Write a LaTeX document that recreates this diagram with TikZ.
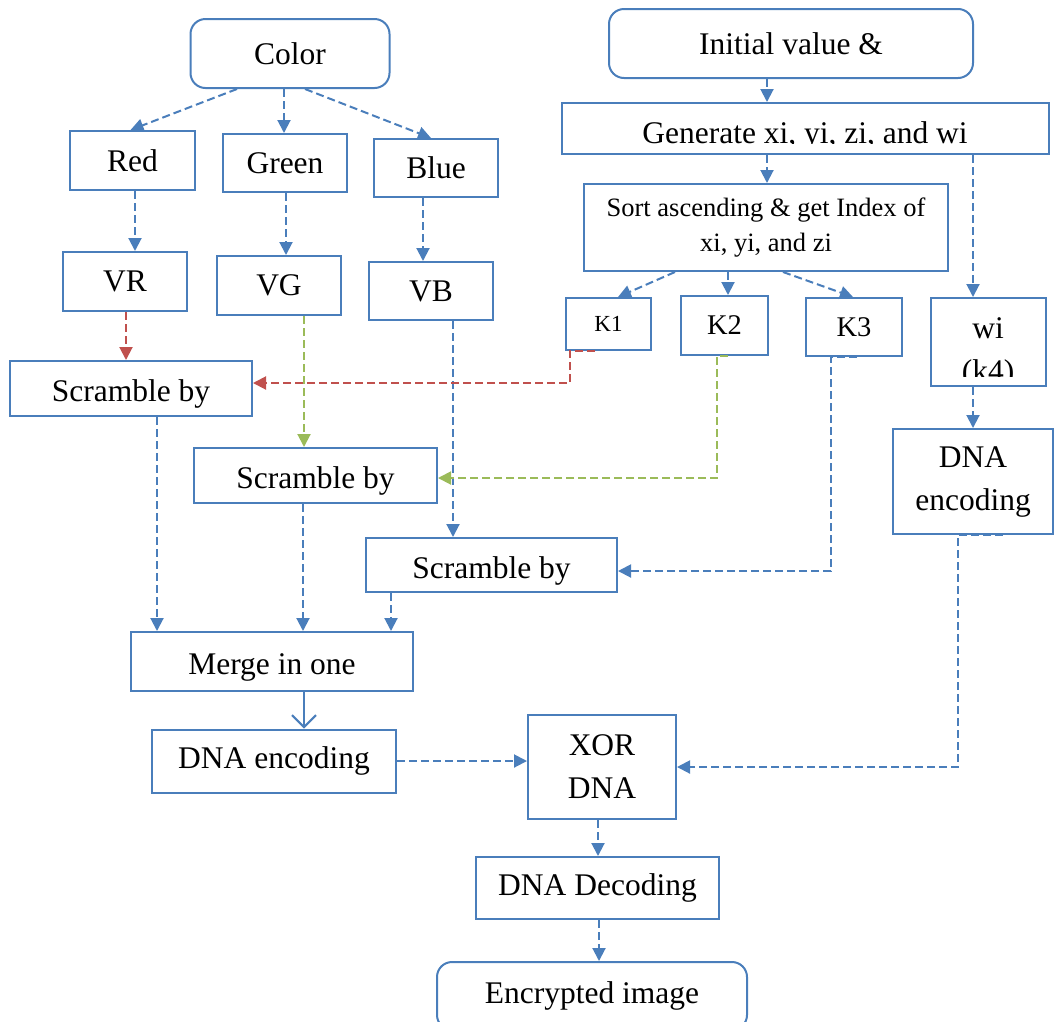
\documentclass[tikz,border=0pt]{standalone}
\usepackage{fontspec}
\setmainfont{Liberation Serif}
\usetikzlibrary{arrows.meta,calc,positioning}
\definecolor{lnblue}{HTML}{4A7EBB}
\definecolor{lnred}{HTML}{C0504D}
\definecolor{lngreen}{HTML}{9BBB59}
\tikzset{box/.style={draw=lnblue,line width=2pt,align=center,inner sep=0pt,font=\fontsize{31.5}{43}\selectfont},
  rbox/.style={box,rounded corners=15pt},
  lowbox/.style={box,text height=26pt,text depth=0pt},
  arr/.style={-{Triangle[length=13pt,width=13pt]},line width=2pt,dash pattern=on 8pt off 4pt,lnblue},
  redarr/.style={arr,lnred},
  greenarr/.style={arr,lngreen}}

\begin{document}
\begin{tikzpicture}[x=1pt,y=-1pt]
\useasboundingbox (0,0) rectangle (1059,1021);
% left column
\node[rbox,minimum width=199,minimum height=69] (color) at (290,53.5) {Color};
\node[box,minimum width=125,minimum height=59] (red) at (132.5,160.5) {Red};
\node[box,minimum width=124,minimum height=58] (green) at (285,163) {Green};
\node[box,minimum width=124,minimum height=58] (blue) at (436,168) {Blue};
\node[box,minimum width=124,minimum height=59] (vr) at (125,281.5) {VR};
\node[box,minimum width=124,minimum height=59] (vg) at (279,285.5) {VG};
\node[box,minimum width=124,minimum height=58] (vb) at (431,291) {VB};
\node[lowbox,minimum width=242,minimum height=55] (scr1) at (131,388.5) {Scramble by};
\node[lowbox,minimum width=243,minimum height=55] (scr2) at (315.5,475.5) {Scramble by};
\node[lowbox,minimum width=251,minimum height=54] (scr3) at (491.5,565) {Scramble by};
\node[lowbox,minimum width=282,minimum height=59] (merge) at (272,661.5) {Merge in one};
\node[box,minimum width=244,minimum height=63] (enc1) at (274,761) {DNA encoding};
\node[box,minimum width=148,minimum height=104] (xor) at (602,767) {XOR\\DNA};
\node[box,minimum width=243,minimum height=62] (dec) at (597.5,888) {DNA Decoding};
\node[rbox,minimum width=310,minimum height=68] (encr) at (592,996) {};
\node[font=\fontsize{31.5}{43}\selectfont,anchor=base] (encrtxt) at (592,1003) {Encrypted image};
% right column
\node[rbox,minimum width=364,minimum height=69] (init) at (791,43.5) {Initial value \&};
\node[box,minimum width=487,minimum height=51] (gen) at (805.5,128.5) {};
\begin{scope}
  \clip (gen.north west) rectangle ([yshift=11.5]gen.south east);
  \node[font=\fontsize{31.5}{43}\selectfont,anchor=base] (gentxt) at (805,143.5) {Generate xi, yi, zi, and wi};
\end{scope}
\node[box,minimum width=364,minimum height=87,font=\fontsize{26.5}{35}\selectfont] (sort) at (766,227.5) {Sort ascending \& get Index of\\xi, yi, and zi};
\node[box,minimum width=85,minimum height=52,font=\fontsize{23}{28}\selectfont] (k1) at (608.5,324) {K1};
\node[box,minimum width=87,minimum height=59,font=\fontsize{28.5}{35}\selectfont] (k2) at (724.5,325.5) {K2};
\node[box,minimum width=96,minimum height=58,font=\fontsize{28.5}{35}\selectfont] (k3) at (854,327) {K3};
\node[box,minimum width=115,minimum height=88] (wi) at (988.5,342) {};
\begin{scope}
  \clip (wi.north west) rectangle ([yshift=11]wi.south east);
  \node[font=\fontsize{31.5}{43}\selectfont,align=center] (witxt) at (988,353) {wi\\(k4)};
\end{scope}
\node[box,minimum width=160,minimum height=105] (enc2) at (973,481.5) {DNA\\encoding};

% colour split
\draw[arr] ([xshift=-53]color.south) -- ([xshift=-2]red.north);
\draw[arr] ([xshift=-6]color.south) -- ([xshift=-1]green.north);
\draw[arr] ([xshift=15]color.south) -- ([xshift=-5]blue.north);
\draw[arr] ([xshift=2.5]red.south) -- ([xshift=2.5]red.south |- vr.north);
\draw[arr] ([xshift=1]green.south) -- ([xshift=1]green.south |- vg.north);
\draw[arr] ([xshift=-13]blue.south) -- ([xshift=-13]blue.south |- vb.north);
\draw[redarr] ([xshift=1]vr.south) -- ([xshift=1]vr.south |- scr1.north);
\draw[greenarr] ([xshift=25]vg.south) -- ([xshift=25]vg.south |- scr2.north);
\draw[arr] ([xshift=22]vb.south) -- ([xshift=22]vb.south |- scr3.north);
% keys to scrambling
\draw[redarr] ([xshift=-13.5]k1.south) -- ([xshift=-38.5]k1.south) |- ([yshift=5.5]scr1.east);
\draw[greenarr] ([xshift=3.5]k2.south) -- ([xshift=-7.5]k2.south) |- ([yshift=-2.5]scr2.east);
\draw[arr] ([xshift=3]k3.south) -- ([xshift=-23]k3.south) |- ([yshift=-6]scr3.east);
% key generation
\draw[arr] ([xshift=-24]init.south) -- ([xshift=-24]init.south |- gen.north);
\draw[arr] ([xshift=-38.5]gen.south) -- ([xshift=-38.5]gen.south |- sort.north);
\draw[arr] ([xshift=167.5]gen.south) -- ([xshift=167.5]gen.south |- wi.north);
\draw[arr] ([xshift=-91]sort.south) -- ([xshift=9.5]k1.north);
\draw[arr] ([xshift=-38]sort.south) -- ([xshift=-38]sort.south |- k2.north);
\draw[arr] ([xshift=17]sort.south) -- ([xshift=-1]k3.north);
\draw[arr] ([xshift=-15.5]wi.south) -- ([xshift=-15.5]wi.south |- enc2.north);
\draw[arr] ([xshift=30]enc2.south) -- ([xshift=-15]enc2.south) |- (xor.east);
% merge and output
\draw[arr] ([xshift=26]scr1.south) -- ([xshift=26]scr1.south |- merge.north);
\draw[arr] ([xshift=-12.5]scr2.south) -- ([xshift=-12.5]scr2.south |- merge.north);
\draw[arr] ([xshift=-100.5]scr3.south) -- ([xshift=-100.5]scr3.south |- merge.north);
\draw[lnblue,line width=2pt,-{Straight Barb[length=12pt,width=24pt]}] ([xshift=32]merge.south) -- ([xshift=32]merge.south |- enc1.north);
\draw[arr] (enc1.east) -- (enc1.east -| xor.west);
\draw[arr] ([xshift=-4]xor.south) -- ([xshift=-4]xor.south |- dec.north);
\draw[arr] ([xshift=1.5]dec.south) -- ([xshift=1.5]dec.south |- encr.north);
\end{tikzpicture}
\end{document}
